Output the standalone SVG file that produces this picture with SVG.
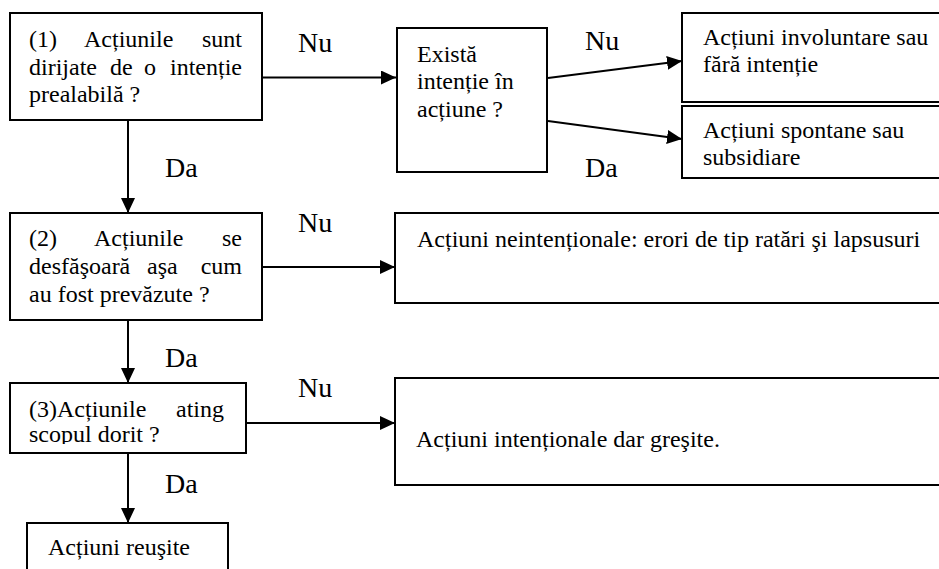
<svg xmlns="http://www.w3.org/2000/svg" width="939" height="569" viewBox="0 0 939 569">
<style>
.box{fill:#fff;stroke:#000;stroke-width:2}
.a{font-family:'Liberation Serif','Times New Roman',serif;font-size:24px}
.b{font-family:'Liberation Serif','Times New Roman',serif;font-size:28px}
.c{stroke:#000;stroke-width:2;fill:none;marker-end:url(#ah)}
</style>
<defs>
<marker id="ah" markerWidth="15" markerHeight="14" refX="15" refY="7" orient="auto" markerUnits="userSpaceOnUse"><path d="M0,0 L15,7 L0,14 z" fill="#000"/></marker>
<clipPath id="clip3"><rect x="10" y="383" width="236" height="61"/></clipPath>
</defs>
<rect width="939" height="569" fill="#fff"/>
<g id="connectors">
<line class="c" x1="262" y1="77.5" x2="396" y2="77.5"/>
<line class="c" x1="548" y1="78" x2="682" y2="61"/>
<line class="c" x1="548" y1="121" x2="682" y2="139"/>
<line class="c" x1="128" y1="120" x2="128" y2="213"/>
<line class="c" x1="262" y1="267" x2="395" y2="267"/>
<line class="c" x1="128" y1="320" x2="128" y2="383"/>
<line class="c" x1="246" y1="423" x2="395" y2="423"/>
<line class="c" x1="128" y1="453" x2="128" y2="523"/>
<text class="b" x="298" y="52">Nu</text>
<text class="b" x="585" y="50">Nu</text>
<text class="b" x="585" y="177">Da</text>
<text class="b" x="165" y="177">Da</text>
<text class="b" x="298" y="232">Nu</text>
<text class="b" x="165" y="367">Da</text>
<text class="b" x="298" y="397">Nu</text>
<text class="b" x="165" y="493">Da</text>
</g>
<g id="n1">
<rect class="box" x="10" y="13" width="252" height="107"/>
<text class="a" x="29" y="47">(1)</text>
<text class="a" x="84" y="47">Acțiunile</text>
<text class="a" x="242" y="47" text-anchor="end">sunt</text>
<text class="a" x="29" y="74.5">dirijate</text>
<text class="a" x="110" y="74.5">de</text>
<text class="a" x="144" y="74.5">o</text>
<text class="a" x="242" y="74.5" text-anchor="end">intenție</text>
<text class="a" x="29" y="102">prealabilă ?</text>
</g>
<g id="n2">
<rect class="box" x="397" y="28" width="150" height="144"/>
<text class="a" x="417" y="62">Există</text>
<text class="a" x="417" y="89">intenție în</text>
<text class="a" x="417" y="117">acțiune ?</text>
</g>
<g id="n3">
<rect class="box" x="682" y="13" width="270" height="89"/>
<text class="a" x="703" y="45">Acțiuni involuntare sau</text>
<text class="a" x="703" y="72">fără intenție</text>
</g>
<g id="n4">
<rect class="box" x="682" y="106" width="270" height="72"/>
<text class="a" x="703" y="138">Acțiuni spontane sau</text>
<text class="a" x="703" y="165">subsidiare</text>
</g>
<g id="n5">
<rect class="box" x="10" y="213" width="252" height="107"/>
<text class="a" x="29" y="246">(2)</text>
<text class="a" x="94" y="246">Acțiunile</text>
<text class="a" x="242" y="246" text-anchor="end">se</text>
<text class="a" x="29" y="274">desfăşoară</text>
<text class="a" x="147" y="274">aşa</text>
<text class="a" x="242" y="274" text-anchor="end">cum</text>
<text class="a" x="29" y="302">au fost prevăzute ?</text>
</g>
<g id="n6">
<rect class="box" x="395" y="213" width="560" height="90"/>
<text class="a" x="417" y="247">Acțiuni neintenționale: erori de tip ratări şi lapsusuri</text>
</g>
<g id="n7">
<rect class="box" x="10" y="383" width="236" height="70"/>
<g clip-path="url(#clip3)">
<text class="a" x="29" y="417">(3)Acțiunile</text>
<text class="a" x="224" y="417" text-anchor="end">ating</text>
<text class="a" x="29" y="442">scopul dorit ?</text>
</g>
</g>
<g id="n8">
<rect class="box" x="395" y="378" width="560" height="107"/>
<text class="a" x="416" y="447">Acțiuni intenționale dar greşite.</text>
</g>
<g id="n9">
<rect class="box" x="27" y="523" width="201" height="60"/>
<text class="a" x="48" y="555">Acțiuni reuşite</text>
</g>
</svg>
